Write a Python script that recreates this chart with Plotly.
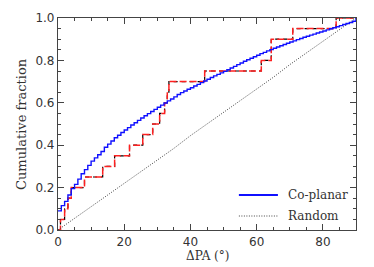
import numpy as np
import plotly.graph_objects as go

# Observed sample: Delta PA values (deg) and cumulative fraction
obs_dpa = [0.0, 0.75, 2.0, 3.0, 4.0, 8.0, 13.5, 17.1, 21.6, 25.6, 28.6, 30.7,
           32.2, 33.0, 33.5, 44.3, 61.4, 64.4, 70.9, 84.0, 90.0]
obs_frac = [0.0, 0.05, 0.10, 0.15, 0.20, 0.25, 0.30, 0.35, 0.40, 0.45, 0.50, 0.55,
            0.60, 0.65, 0.70, 0.75, 0.80, 0.90, 0.95, 1.00, 1.00]

# Co-planar model CDF (1-degree bins)
cop_dpa = list(range(0, 91))
cop_frac = [0.090, 0.115, 0.135, 0.165, 0.195, 0.215, 0.240, 0.265, 0.285, 0.305,
            0.325, 0.340, 0.355, 0.370, 0.390, 0.405, 0.420, 0.435, 0.447, 0.460,
            0.472, 0.483, 0.495, 0.506, 0.517, 0.528, 0.539, 0.549, 0.559, 0.569,
            0.579, 0.589, 0.599, 0.609, 0.618, 0.628, 0.639, 0.648, 0.656, 0.664,
            0.671, 0.679, 0.687, 0.695, 0.703, 0.711, 0.719, 0.727, 0.734, 0.741,
            0.748, 0.756, 0.764, 0.772, 0.780, 0.788, 0.796, 0.803, 0.810, 0.817,
            0.824, 0.832, 0.838, 0.845, 0.851, 0.857, 0.863, 0.869, 0.875, 0.881,
            0.887, 0.892, 0.898, 0.903, 0.909, 0.914, 0.919, 0.924, 0.929, 0.934,
            0.939, 0.944, 0.949, 0.954, 0.959, 0.964, 0.969, 0.974, 0.979, 0.985,
            1.000]

# Random orientation CDF
rnd_dpa = [0, 5, 10, 15, 20, 25, 30, 35, 40, 45, 50, 55, 60, 65, 70, 75, 80, 85, 90]
rnd_frac = [0.0, 0.055, 0.11, 0.165, 0.22, 0.275, 0.33, 0.385, 0.445, 0.50,
            0.555, 0.61, 0.665, 0.72, 0.78, 0.835, 0.89, 0.945, 1.0]

x_ticks = [0, 20, 40, 60, 80]
y_ticks = [0.0, 0.2, 0.4, 0.6, 0.8, 1.0]
y_ticklabels = ["0.0", "0.2", "0.4", "0.6", "0.8", "1.0"]

legend_names = ["Co-planar", "Random"]

BLUE = "#1010ff"
RED = "#ff2020"
DOT = "#444444"
DOT_DASH = "1px,1.5px"

fig = go.Figure()
fig.add_trace(go.Scatter(x=obs_dpa, y=obs_frac, mode="lines", line_shape="hv",
                         line=dict(color="black", width=1.2, dash="4px,4px"),
                         showlegend=False, hoverinfo="skip"))
fig.add_trace(go.Scatter(x=obs_dpa, y=obs_frac, mode="lines", line_shape="hv",
                         line=dict(color=RED, width=1.5, dash="7px,3px"),
                         showlegend=False, name="Observed"))
fig.add_trace(go.Scatter(x=rnd_dpa, y=rnd_frac, mode="lines", name=legend_names[1],
                         showlegend=False,
                         line=dict(color=DOT, width=1, dash=DOT_DASH)))
fig.add_trace(go.Scatter(x=cop_dpa, y=cop_frac, mode="lines", line_shape="hv",
                         showlegend=False,
                         name=legend_names[0], line=dict(color=BLUE, width=1.4)))

font_txt = "DejaVu Serif"
axis_common = dict(showline=True, linecolor="#444444", linewidth=1.2, mirror="ticks",
                   ticks="inside", ticklen=6, tickwidth=1, tickcolor="#444444",
                   showgrid=False, zeroline=False, automargin=False,
                   tickfont=dict(family="DejaVu Sans", size=12, color="#333333"))

fig.update_xaxes(range=[0, 90], tickvals=x_ticks,
                 minor=dict(dtick=5, ticks="inside", ticklen=3, tickcolor="#444444"),
                 **axis_common)
fig.update_yaxes(range=[0, 1.0], tickvals=y_ticks, ticktext=y_ticklabels,
                 minor=dict(dtick=0.05, ticks="inside", ticklen=3, tickcolor="#444444"),
                 **axis_common)

fig.add_annotation(text="ΔPA (°)", xref="paper", yref="paper", x=0.5, y=0,
                   xanchor="center", yanchor="top", yshift=-17, showarrow=False,
                   font=dict(family=font_txt, size=12, color="#333333"))
fig.add_annotation(text="Cumulative fraction", xref="paper", yref="paper", x=0, y=0.5,
                   xanchor="center", yanchor="middle", xshift=-37, textangle=-90,
                   showarrow=False,
                   font=dict(family=font_txt, size=13, color="#333333"))

# hand-placed legend (inside lower right of the frame)
leg_rows = [(0.165, dict(color=BLUE, width=2)),
            (0.066, dict(color=DOT, width=1, dash=DOT_DASH))]
for name, (ly, lstyle) in zip(legend_names, leg_rows):
    fig.add_shape(type="line", xref="paper", yref="paper",
                  x0=0.607, x1=0.738, y0=ly, y1=ly, line=lstyle)
    fig.add_annotation(text=name, xref="paper", yref="paper", x=0.765, y=ly,
                       xanchor="left", yanchor="middle", showarrow=False,
                       font=dict(family=font_txt, size=12, color="#333333"))

# page body has an 8px default margin: figure spans (8..374, 8..267)
fig.update_layout(
    width=366, height=259,
    margin=dict(l=50, r=18, t=10, b=37),
    plot_bgcolor="white", paper_bgcolor="white",
    showlegend=False,
)

fig.write_html("out.html")
